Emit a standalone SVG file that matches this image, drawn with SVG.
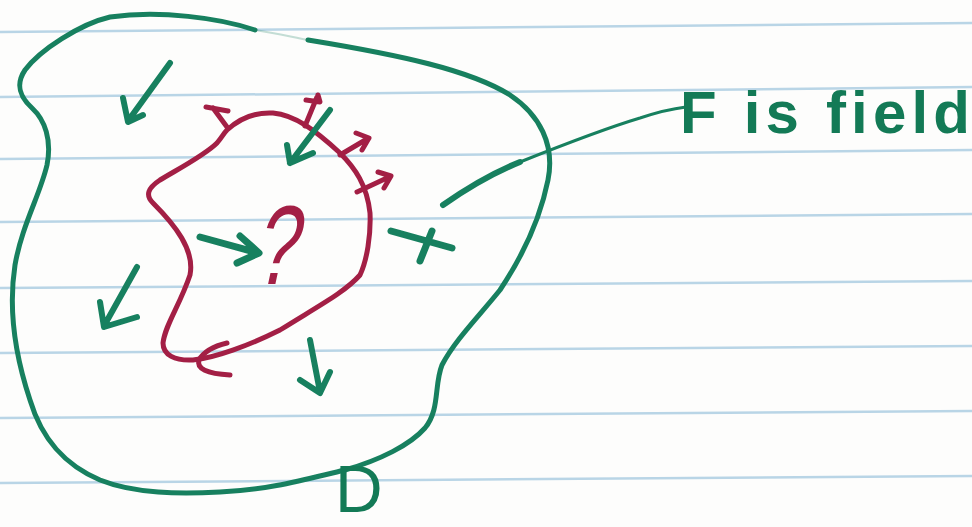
<svg xmlns="http://www.w3.org/2000/svg" width="972" height="527" viewBox="0 0 972 527">
<style>
.rule{stroke:#b9d5e6;stroke-width:2.5;fill:none}
.g{stroke:#17805f;fill:none;stroke-linecap:round;stroke-linejoin:round}
.r{stroke:#a31f45;fill:none;stroke-linecap:round;stroke-linejoin:round}
.gt{fill:#137a56;font-family:"Liberation Sans",Arial,sans-serif}
</style>
<rect width="972" height="527" fill="#fdfdfc"/>
<g id="paper">
<line class="rule" x1="0" y1="32" x2="972" y2="23"/>
<line class="rule" x1="0" y1="97" x2="972" y2="87"/>
<line class="rule" x1="0" y1="159" x2="972" y2="150"/>
<line class="rule" x1="0" y1="222" x2="972" y2="214"/>
<line class="rule" x1="0" y1="288" x2="972" y2="281"/>
<line class="rule" x1="0" y1="353" x2="972" y2="346"/>
<line class="rule" x1="0" y1="418" x2="972" y2="411"/>
<line class="rule" x1="0" y1="483" x2="972" y2="476"/>
</g>
<g id="region-D">
<path class="g" stroke-width="5" d="M255 30 C220 18,160 10,110 17 C80 24,40 50,25 70 C15 85,20 97,32 108 C45 120,52 140,47 165 C40 195,22 225,15 265 C8 310,15 355,30 400 C42 440,65 465,100 480 C135 494,180 494,220 492 C270 490,310 478,345 470 C380 460,410 445,425 428 C440 410,434 385,442 365 C455 340,480 315,500 290 C520 260,540 220,548 180 C555 145,540 115,510 95 C470 70,400 55,308 40"/>
<path class="g" stroke-width="2" opacity="0.25" d="M255 30 C275 33,292 37,308 40"/>
<text class="gt" x="335" y="512" font-size="66">D</text>
</g>
<g id="surface">
<path class="r" stroke-width="5" d="M227 130 C240 118,255 112,273 113 C295 115,315 130,340 153 C355 168,367 185,370 213 C371 235,367 260,360 275 C345 292,320 305,280 330 C250 345,215 358,193 360 C175 361,163 355,163 343 C165 325,180 305,190 275 C195 250,175 225,153 203 C145 195,148 188,160 180 C180 168,205 155,217 143 C222 137,224 133,227 130"/>
<path class="r" stroke-width="5" d="M227 343 Q206 348 199 360 Q195 373 230 375"/>
<path class="r" stroke-width="5" d="M227 127 L213 108 M206 107 L228 111"/>
<path class="r" stroke-width="5" d="M305 126 L317 97 M306 100 L320 102 L318 95"/>
<path class="r" stroke-width="5" d="M340 155 L367 139 M356 133 L369 138 L362 150"/>
<path class="r" stroke-width="5" d="M357 192 L389 177 M378 172 L391 176 L384 188"/>
<text x="0" y="0" font-size="90" fill="#a31f45" font-family="Liberation Sans,Arial,sans-serif" text-anchor="middle" transform="translate(273,284) skewX(-12) scale(0.85,1.25)">?</text>
</g>
<g id="field-arrows">
<path class="g" stroke-width="6" d="M170 63 L128 121 M123 98 L128 122 L143 115"/>
<path class="g" stroke-width="6" d="M137 267 L104 326 M100 302 L104 327 L137 317"/>
<path class="g" stroke-width="7" d="M200 237 L258 253 M240 236 L259 253 L237 263"/>
<path class="g" stroke-width="7" d="M391 231 L452 248 M432 231 L420 261"/>
<path class="g" stroke-width="6" d="M310 340 L320 392 M300 380 L320 393 L330 372"/>
<path class="g" stroke-width="6" d="M330 110 L290 163 M287 145 L290 163 L313 153"/>
</g>
<g id="connectors">
<path class="g" stroke-width="6" d="M443 205 C470 186,495 172,520 162"/>
<path class="g" stroke-width="3" d="M520 162 C560 146,600 130,640 118 C655 113,670 109,686 107"/>
</g>
<g id="label-F">
<text class="gt" x="680" y="133" font-size="60" font-weight="bold" textLength="290" lengthAdjust="spacing">F is field</text>
</g>
</svg>
